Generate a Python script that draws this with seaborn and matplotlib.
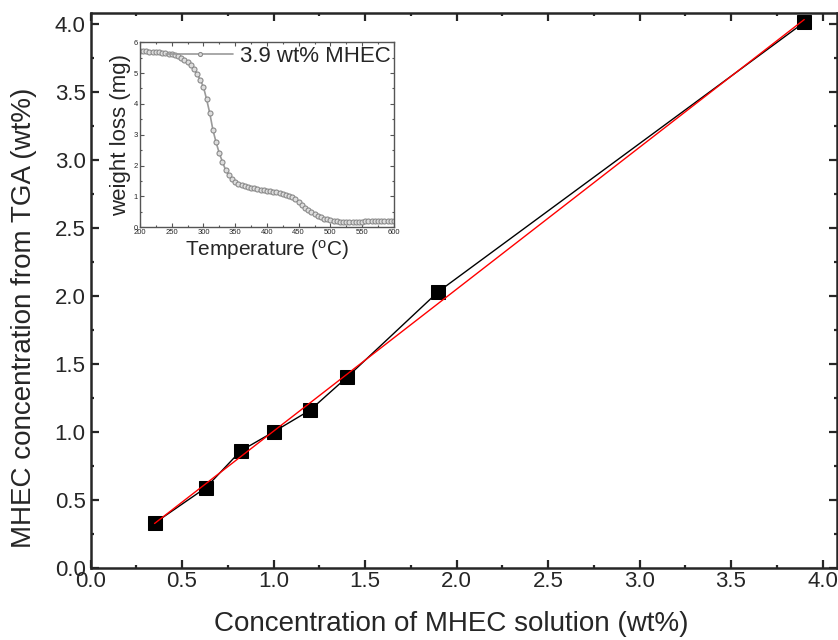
import numpy as np
import pandas as pd
import matplotlib
matplotlib.use("Agg")
import matplotlib.pyplot as plt
import seaborn as sns
from matplotlib.ticker import MultipleLocator

# =====================
# DATA
# =====================
# main plot: solution concentration vs concentration from TGA
conc_solution = [0.35, 0.63, 0.82, 1.00, 1.20, 1.40, 1.90, 3.90]
conc_tga = [0.33, 0.59, 0.86, 1.00, 1.16, 1.40, 2.03, 4.01]

# inset: TGA curve for the 3.9 wt% sample
temperature = list(range(200, 605, 5))
weight_loss = [
    5.70, 5.70, 5.70, 5.69, 5.69, 5.68, 5.67, 5.66, 5.65, 5.63,
    5.61, 5.58, 5.54, 5.49, 5.43, 5.35, 5.25, 5.12, 4.97, 4.78,
    4.55, 4.15, 3.70, 3.15, 2.75, 2.40, 2.12, 1.85, 1.68, 1.55,
    1.47, 1.41, 1.37, 1.33, 1.30, 1.28, 1.26, 1.24, 1.22, 1.21,
    1.19, 1.17, 1.15, 1.13, 1.11, 1.09, 1.06, 1.02, 0.97, 0.90,
    0.81, 0.72, 0.63, 0.55, 0.48, 0.42, 0.37, 0.32, 0.28, 0.25,
    0.22, 0.20, 0.19, 0.18, 0.18, 0.18, 0.18, 0.18, 0.18, 0.18,
    0.18, 0.19, 0.19, 0.19, 0.19, 0.19, 0.19, 0.19, 0.19, 0.19,
    0.19,
]
inset_label = "3.9 wt% MHEC"

main_df = pd.DataFrame({"solution": conc_solution, "tga": conc_tga})
tga_df = pd.DataFrame({"T": temperature, "loss": weight_loss})

# =====================
# STYLE
# =====================
sns.set_style("ticks")
plt.rcParams["font.family"] = ["Liberation Sans", "DejaVu Sans"]
plt.rcParams["xtick.direction"] = "in"
plt.rcParams["ytick.direction"] = "in"
plt.rcParams["mathtext.default"] = "regular"

fig = plt.figure(figsize=(8.38, 6.4), dpi=100)
ax = fig.add_axes([0.108, 0.1125, 0.891, 0.8675])

# =====================
# MAIN PLOT
# =====================
sns.lineplot(data=main_df, x="solution", y="tga", ax=ax, sort=False,
             color="black", linewidth=1.0, marker="s", markersize=10,
             markeredgecolor="black", markerfacecolor="black")
sns.regplot(data=main_df, x="solution", y="tga", ax=ax, scatter=False,
            ci=None, truncate=True, color="red", line_kws={"linewidth": 1.0})

ax.set_xlim(0, 4.08)
ax.set_ylim(0, 4.08)
ax.xaxis.set_major_locator(MultipleLocator(0.5))
ax.xaxis.set_minor_locator(MultipleLocator(0.25))
ax.yaxis.set_major_locator(MultipleLocator(0.5))
ax.yaxis.set_minor_locator(MultipleLocator(0.25))
ax.xaxis.set_major_formatter(matplotlib.ticker.FormatStrFormatter("%.1f"))
ax.yaxis.set_major_formatter(matplotlib.ticker.FormatStrFormatter("%.1f"))
ax.tick_params(which="both", top=True, right=True, width=1.6)
ax.tick_params(which="major", length=5.5, labelsize=16)
ax.tick_params(which="minor", length=2.5)
ax.tick_params(axis="x", pad=2)
for sp in ax.spines.values():
    sp.set_linewidth(1.8)
ax.set_xlabel("Concentration of MHEC solution (wt%)", fontsize=20)
ax.set_ylabel("MHEC concentration from TGA (wt%)", fontsize=20)
ax.xaxis.set_label_coords(0.483, -0.077)
ax.yaxis.set_label_coords(-0.071, 0.45)

# =====================
# INSET: TGA CURVE
# =====================
ax_in = fig.add_axes([0.167, 0.645, 0.303, 0.289])
sns.lineplot(data=tga_df, x="T", y="loss", ax=ax_in, sort=False,
             color="#9a9a9a", linewidth=1.2, marker="o", markersize=3.6,
             markerfacecolor="#dddddd", markeredgecolor="#8a8a8a",
             markeredgewidth=0.8, label=inset_label)
ax_in.set_xlim(200, 600)
ax_in.set_ylim(0, 6)
ax_in.xaxis.set_major_locator(MultipleLocator(50))
ax_in.xaxis.set_minor_locator(MultipleLocator(25))
ax_in.yaxis.set_major_locator(MultipleLocator(1))
ax_in.yaxis.set_minor_locator(MultipleLocator(0.5))
ax_in.tick_params(which="both", top=True, right=True, width=0.8,
                  color="#555555", labelsize=5.5, pad=1.5)
ax_in.tick_params(which="major", length=3)
ax_in.tick_params(which="minor", length=1.5)
for sp in ax_in.spines.values():
    sp.set_linewidth(1.0)
    sp.set_color("#555555")
ax_in.set_xlabel("Temperature ($^{o}$C)", fontsize=15, labelpad=1)
ax_in.set_ylabel("weight loss (mg)", fontsize=16, labelpad=2)
ax_in.legend(loc="upper right", frameon=False, fontsize=16, handlelength=3.0,
             handletextpad=0.3, borderaxespad=0.1, borderpad=0.05,
             markerscale=0.8)

fig.savefig("out.png", dpi=100)
